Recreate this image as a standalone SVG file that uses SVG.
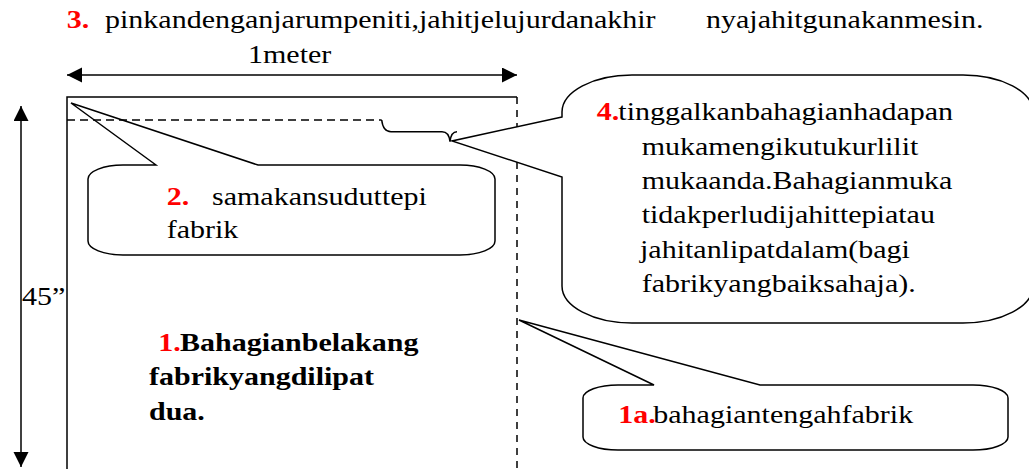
<svg xmlns="http://www.w3.org/2000/svg" width="1029" height="469" viewBox="0 0 1029 469">
<defs>
<marker id="ah" markerUnits="userSpaceOnUse" markerWidth="16" markerHeight="16" refX="15" refY="7.5" orient="auto-start-reverse">
<path d="M0,0 L15,7.5 L0,15 Z" fill="#000"/>
</marker>
</defs>
<rect width="1029" height="469" fill="#fff"/>

<g id="title">
<text transform="matrix(1.2 0 0 1 66.7 28)" font-family="Liberation Serif" font-size="25" font-weight="bold" fill="#ff0000">3.</text>
<text transform="matrix(1.2 0 0 1 105 28)" font-family="Liberation Serif" font-size="25">pinkandenganjarumpeniti,jahitjelujurdanakhir</text>
<text transform="matrix(1.2 0 0 1 706 28)" font-family="Liberation Serif" font-size="25">nyajahitgunakanmesin.</text>
</g>

<g id="fabric" fill="none" stroke="#000" stroke-width="1.5">
<path d="M67,469 L67,97 L517,97"/>
<path d="M517,97 L517,469" stroke-dasharray="7 6"/>
<path d="M381.7,120 Q383,131.7 391,131.7 L442,131.7 Q449,131.7 450,141.7 Q451,131.7 457,131.7"/>
</g>

<g id="connectors" fill="none" stroke="#000" stroke-width="1.5">
<path d="M67,75 L517,75" marker-start="url(#ah)" marker-end="url(#ah)"/>
<path d="M21,106 L21,467" marker-start="url(#ah)" marker-end="url(#ah)"/>
</g>

<g id="dim-width">
<text transform="matrix(1.2 0 0 1 248 63)" font-family="Liberation Serif" font-size="25">1meter</text>
</g>
<g id="dim-height">
<text transform="matrix(1.2 0 0 1 22 305)" font-family="Liberation Serif" font-size="25">45&#8221;</text>
</g>

<g id="callout2">
<path fill="#fff" stroke="#000" stroke-width="1.5" d="M156,165 L71,103 L258,165 L460,165 A35,14 0 0 1 495,179 L495,241 A35,14 0 0 1 460,255 L123,255 A35,14 0 0 1 88,241 L88,179 A35,14 0 0 1 123,165 Z"/>
<text transform="matrix(1.2 0 0 1 166.7 205)" font-family="Liberation Serif" font-size="25" font-weight="bold" fill="#ff0000">2.</text>
<text transform="matrix(1.2 0 0 1 212 205)" font-family="Liberation Serif" font-size="25">samakansuduttepi</text>
<text transform="matrix(1.2 0 0 1 166.7 238)" font-family="Liberation Serif" font-size="25">fabrik</text>
</g>

<path fill="none" stroke="#000" stroke-width="1.5" stroke-dasharray="8 5" d="M67,120 L381.7,120"/>

<g id="callout4">
<path fill="#fff" stroke="#000" stroke-width="1.5" d="M562,117 L452,141 L562,177 L562,286 A70,37 0 0 0 632,323 L963,323 A70,37 0 0 0 1033,286 L1033,112 A70,37 0 0 0 963,75 L632,75 A70,37 0 0 0 562,112 Z"/>
<text transform="matrix(1.2 0 0 1 596.7 120)" font-family="Liberation Serif" font-size="25" font-weight="bold" fill="#ff0000">4.</text>
<text transform="matrix(1.2 0 0 1 618.3 120)" font-family="Liberation Serif" font-size="25">tinggalkanbahagianhadapan</text>
<text transform="matrix(1.2 0 0 1 641.7 154.5)" font-family="Liberation Serif" font-size="25">mukamengikutukurlilit</text>
<text transform="matrix(1.2 0 0 1 641.7 189)" font-family="Liberation Serif" font-size="25">mukaanda.Bahagianmuka</text>
<text transform="matrix(1.2 0 0 1 641.7 223)" font-family="Liberation Serif" font-size="25">tidakperludijahittepiatau</text>
<text transform="matrix(1.2 0 0 1 640 257.5)" font-family="Liberation Serif" font-size="25">jahitanlipatdalam(bagi</text>
<text transform="matrix(1.2 0 0 1 641.7 292)" font-family="Liberation Serif" font-size="25">fabrikyangbaiksahaja).</text>
</g>

<g id="label1">
<text transform="matrix(1.2 0 0 1 158.3 351)" font-family="Liberation Serif" font-size="25" font-weight="bold" fill="#ff0000">1.</text>
<text transform="matrix(1.2 0 0 1 180 351)" font-family="Liberation Serif" font-size="25" font-weight="bold">Bahagianbelakang</text>
<text transform="matrix(1.2 0 0 1 149 385)" font-family="Liberation Serif" font-size="25" font-weight="bold">fabrikyangdilipat</text>
<text transform="matrix(1.2 0 0 1 149 420)" font-family="Liberation Serif" font-size="25" font-weight="bold">dua.</text>
</g>

<g id="callout1a">
<path fill="#fff" stroke="#000" stroke-width="1.5" d="M654,385 L519,320 L760,385 L973,385 A35,13 0 0 1 1008,398 L1008,437 A35,13 0 0 1 973,450 L618,450 A35,13 0 0 1 583,437 L583,398 A35,13 0 0 1 618,385 Z"/>
<text transform="matrix(1.2 0 0 1 618.3 423)" font-family="Liberation Serif" font-size="25" font-weight="bold" fill="#ff0000">1a.</text>
<text transform="matrix(1.2 0 0 1 653.3 423)" font-family="Liberation Serif" font-size="25">bahagiantengahfabrik</text>
</g>
</svg>
